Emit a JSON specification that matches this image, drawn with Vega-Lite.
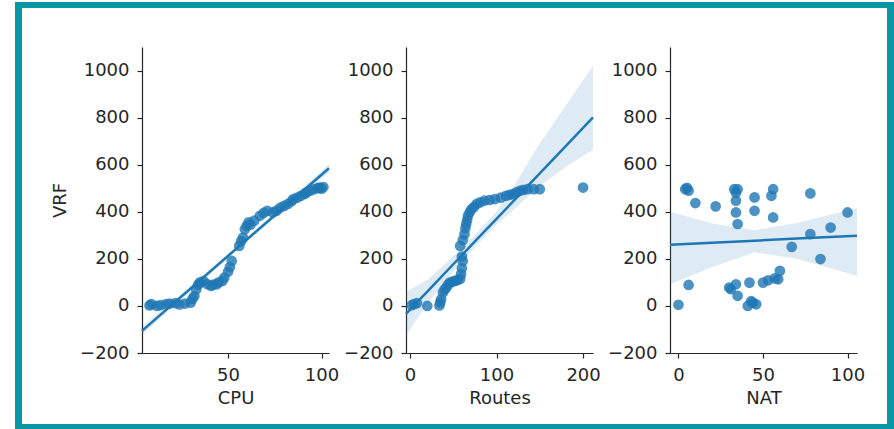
{
  "$schema": "https://vega.github.io/schema/vega-lite/v6.json",
  "background": "white",
  "padding": {"left": 15, "top": 2, "right": 0, "bottom": 0},
  "spacing": 0,
  "vconcat": [
    {"width": 879, "height": 6, "data": {"values": []}, "mark": "point", "encoding": {}, "view": {"fill": "#0897a3", "stroke": null}},
    {
      "spacing": 22,
      "hconcat": [
        {
          "spacing": 29,
          "hconcat": [
            {"width": 7, "height": 416, "data": {"values": []}, "mark": "point", "encoding": {}, "view": {"fill": "#0897a3", "stroke": null}},
            {
              "spacing": 0,
              "vconcat": [
                {"width": 1, "height": 39, "data": {"values": []}, "mark": "point", "encoding": {}},
                {
                  "spacing": 77,
                  "bounds": "flush",
                  "hconcat": [
                    {
                      "width": 187, "height": 306,
                      "layer": [
                        {"data": {"name": "cpu_fit"}, "mark": {"type": "area", "color": "#1f77b4", "opacity": 0.15},
                         "encoding": {
                           "x": {"field": "CPU", "type": "quantitative", "title": "CPU", "scale": {"domain": [4, 104], "nice": false, "zero": false}, "axis": {"values": [50, 100], "format": "d"}},
                           "y": {"field": "lo", "type": "quantitative", "title": "VRF", "scale": {"domain": [-200, 1100], "nice": false, "zero": false}, "axis": {"values": [-200, 0, 200, 400, 600, 800, 1000], "format": "d"}},
                           "y2": {"field": "hi"}}},
                        {"data": {"name": "cpu_fit"}, "mark": {"type": "line", "color": "#1f77b4", "strokeWidth": 2.5},
                         "encoding": {"x": {"field": "CPU", "type": "quantitative", "title": "CPU"}, "y": {"field": "fit", "type": "quantitative", "title": "VRF"}}},
                        {"data": {"name": "cpu"}, "mark": {"type": "circle", "color": "#1f77b4", "opacity": 0.8, "size": 115},
                         "encoding": {"x": {"field": "CPU", "type": "quantitative", "title": "CPU"}, "y": {"field": "VRF", "type": "quantitative", "title": "VRF"}}}
                      ]
                    },
                    {
                      "width": 187, "height": 306,
                      "layer": [
                        {"data": {"name": "routes_fit"}, "mark": {"type": "area", "color": "#1f77b4", "opacity": 0.15},
                         "encoding": {
                           "x": {"field": "Routes", "type": "quantitative", "title": "Routes", "scale": {"domain": [-4.6, 211.5], "nice": false, "zero": false}, "axis": {"values": [0, 100, 200], "format": "d"}},
                           "y": {"field": "lo", "type": "quantitative", "title": null, "scale": {"domain": [-200, 1100], "nice": false, "zero": false}, "axis": {"values": [-200, 0, 200, 400, 600, 800, 1000], "format": "d", "title": null}},
                           "y2": {"field": "hi"}}},
                        {"data": {"name": "routes_fit"}, "mark": {"type": "line", "color": "#1f77b4", "strokeWidth": 2.5},
                         "encoding": {"x": {"field": "Routes", "type": "quantitative", "title": "Routes"}, "y": {"field": "fit", "type": "quantitative", "title": null}}},
                        {"data": {"name": "routes"}, "mark": {"type": "circle", "color": "#1f77b4", "opacity": 0.8, "size": 115},
                         "encoding": {"x": {"field": "Routes", "type": "quantitative", "title": "Routes"}, "y": {"field": "VRF", "type": "quantitative", "title": null}}}
                      ]
                    },
                    {
                      "width": 187, "height": 306,
                      "layer": [
                        {"data": {"name": "nat_fit"}, "mark": {"type": "area", "color": "#1f77b4", "opacity": 0.15},
                         "encoding": {
                           "x": {"field": "NAT", "type": "quantitative", "title": "NAT", "scale": {"domain": [-5, 105.6], "nice": false, "zero": false}, "axis": {"values": [0, 50, 100], "format": "d"}},
                           "y": {"field": "lo", "type": "quantitative", "title": null, "scale": {"domain": [-200, 1100], "nice": false, "zero": false}, "axis": {"values": [-200, 0, 200, 400, 600, 800, 1000], "format": "d", "title": null}},
                           "y2": {"field": "hi"}}},
                        {"data": {"name": "nat_fit"}, "mark": {"type": "line", "color": "#1f77b4", "strokeWidth": 2.5},
                         "encoding": {"x": {"field": "NAT", "type": "quantitative", "title": "NAT"}, "y": {"field": "fit", "type": "quantitative", "title": null}}},
                        {"data": {"name": "nat"}, "mark": {"type": "circle", "color": "#1f77b4", "opacity": 0.8, "size": 115},
                         "encoding": {"x": {"field": "NAT", "type": "quantitative", "title": "NAT"}, "y": {"field": "VRF", "type": "quantitative", "title": null}}}
                      ]
                    }
                  ]
                }
              ]
            }
          ]
        },
        {"width": 7, "height": 416, "data": {"values": []}, "mark": "point", "encoding": {}, "view": {"fill": "#0897a3", "stroke": null}}
      ]
    },
    {"width": 879, "height": 5, "data": {"values": []}, "mark": "point", "encoding": {}, "view": {"fill": "#0897a3", "stroke": null}}
  ],
  "datasets": {
    "cpu": [
      {"CPU": 8, "VRF": 2}, {"CPU": 9, "VRF": 8}, {"CPU": 12, "VRF": 0}, {"CPU": 14, "VRF": 3}, {"CPU": 17, "VRF": 8},
      {"CPU": 19, "VRF": 10}, {"CPU": 22, "VRF": 12}, {"CPU": 24, "VRF": 6}, {"CPU": 27, "VRF": 10}, {"CPU": 30, "VRF": 14},
      {"CPU": 31, "VRF": 30}, {"CPU": 32, "VRF": 42}, {"CPU": 33, "VRF": 70}, {"CPU": 34, "VRF": 90}, {"CPU": 35, "VRF": 100},
      {"CPU": 37, "VRF": 105}, {"CPU": 39, "VRF": 92}, {"CPU": 41, "VRF": 85}, {"CPU": 42, "VRF": 90}, {"CPU": 44, "VRF": 92},
      {"CPU": 45, "VRF": 100}, {"CPU": 47, "VRF": 106}, {"CPU": 48, "VRF": 120}, {"CPU": 50, "VRF": 145}, {"CPU": 51, "VRF": 165},
      {"CPU": 52, "VRF": 191}, {"CPU": 56, "VRF": 255}, {"CPU": 57, "VRF": 275}, {"CPU": 58, "VRF": 290}, {"CPU": 59, "VRF": 326},
      {"CPU": 60, "VRF": 340}, {"CPU": 61, "VRF": 355}, {"CPU": 62, "VRF": 345}, {"CPU": 64, "VRF": 362}, {"CPU": 67, "VRF": 383},
      {"CPU": 69, "VRF": 395}, {"CPU": 71, "VRF": 404}, {"CPU": 74, "VRF": 397}, {"CPU": 76, "VRF": 405}, {"CPU": 78, "VRF": 418},
      {"CPU": 80, "VRF": 425}, {"CPU": 82, "VRF": 433}, {"CPU": 84, "VRF": 445}, {"CPU": 85, "VRF": 454}, {"CPU": 87, "VRF": 460},
      {"CPU": 89, "VRF": 468}, {"CPU": 91, "VRF": 476}, {"CPU": 92, "VRF": 482}, {"CPU": 94, "VRF": 490}, {"CPU": 96, "VRF": 496},
      {"CPU": 98, "VRF": 500}, {"CPU": 99, "VRF": 503}, {"CPU": 100, "VRF": 498}, {"CPU": 101, "VRF": 505}
    ],
    "cpu_fit": [
      {"CPU": 4, "fit": -106, "lo": -122, "hi": -90},
      {"CPU": 54, "fit": 240, "lo": 231, "hi": 249},
      {"CPU": 104, "fit": 585, "lo": 568, "hi": 602}
    ],
    "routes": [
      {"Routes": 2, "VRF": 3}, {"Routes": 5, "VRF": 8}, {"Routes": 8, "VRF": 12}, {"Routes": 20, "VRF": 0}, {"Routes": 34, "VRF": 2},
      {"Routes": 35, "VRF": 15}, {"Routes": 36, "VRF": 28}, {"Routes": 38, "VRF": 57}, {"Routes": 40, "VRF": 70}, {"Routes": 42, "VRF": 78},
      {"Routes": 44, "VRF": 90}, {"Routes": 46, "VRF": 99}, {"Routes": 49, "VRF": 103}, {"Routes": 52, "VRF": 106}, {"Routes": 55, "VRF": 110},
      {"Routes": 58, "VRF": 115}, {"Routes": 59, "VRF": 135}, {"Routes": 60, "VRF": 160}, {"Routes": 61, "VRF": 191}, {"Routes": 60, "VRF": 210},
      {"Routes": 58, "VRF": 255}, {"Routes": 61, "VRF": 280}, {"Routes": 63, "VRF": 305}, {"Routes": 64, "VRF": 330}, {"Routes": 65, "VRF": 348},
      {"Routes": 66, "VRF": 365}, {"Routes": 67, "VRF": 383}, {"Routes": 69, "VRF": 398}, {"Routes": 71, "VRF": 411}, {"Routes": 74, "VRF": 420},
      {"Routes": 77, "VRF": 433}, {"Routes": 81, "VRF": 440}, {"Routes": 86, "VRF": 447}, {"Routes": 92, "VRF": 450}, {"Routes": 98, "VRF": 454},
      {"Routes": 105, "VRF": 460}, {"Routes": 111, "VRF": 468}, {"Routes": 115, "VRF": 472}, {"Routes": 119, "VRF": 475}, {"Routes": 123, "VRF": 482},
      {"Routes": 127, "VRF": 489}, {"Routes": 131, "VRF": 493}, {"Routes": 136, "VRF": 496}, {"Routes": 143, "VRF": 496}, {"Routes": 150, "VRF": 496},
      {"Routes": 200, "VRF": 503}
    ],
    "routes_fit": [
      {"Routes": -4.6, "fit": -34, "lo": -125, "hi": 60},
      {"Routes": 20, "fit": 61, "lo": 10, "hi": 110},
      {"Routes": 50, "fit": 177, "lo": 145, "hi": 210},
      {"Routes": 80, "fit": 293, "lo": 268, "hi": 320},
      {"Routes": 100, "fit": 370, "lo": 345, "hi": 400},
      {"Routes": 120, "fit": 447, "lo": 410, "hi": 510},
      {"Routes": 150, "fit": 563, "lo": 510, "hi": 690},
      {"Routes": 180, "fit": 679, "lo": 590, "hi": 850},
      {"Routes": 211.5, "fit": 801, "lo": 665, "hi": 1020}
    ],
    "nat": [
      {"NAT": 0, "VRF": 5}, {"NAT": 4, "VRF": 496}, {"NAT": 5, "VRF": 502}, {"NAT": 6, "VRF": 490}, {"NAT": 10, "VRF": 437},
      {"NAT": 6, "VRF": 89}, {"NAT": 22, "VRF": 423}, {"NAT": 30, "VRF": 78}, {"NAT": 31, "VRF": 71}, {"NAT": 34, "VRF": 92},
      {"NAT": 35, "VRF": 43}, {"NAT": 33, "VRF": 496}, {"NAT": 34, "VRF": 481}, {"NAT": 35, "VRF": 496}, {"NAT": 34, "VRF": 447},
      {"NAT": 34, "VRF": 397}, {"NAT": 35, "VRF": 348}, {"NAT": 41, "VRF": 0}, {"NAT": 42, "VRF": 99}, {"NAT": 43, "VRF": 20},
      {"NAT": 44, "VRF": 14}, {"NAT": 46, "VRF": 7}, {"NAT": 45, "VRF": 461}, {"NAT": 45, "VRF": 404}, {"NAT": 50, "VRF": 99},
      {"NAT": 53, "VRF": 109}, {"NAT": 57, "VRF": 117}, {"NAT": 59, "VRF": 113}, {"NAT": 60, "VRF": 149}, {"NAT": 56, "VRF": 496},
      {"NAT": 55, "VRF": 468}, {"NAT": 56, "VRF": 376}, {"NAT": 67, "VRF": 251}, {"NAT": 78, "VRF": 478}, {"NAT": 78, "VRF": 305},
      {"NAT": 90, "VRF": 333}, {"NAT": 84, "VRF": 199}, {"NAT": 100, "VRF": 397}
    ],
    "nat_fit": [
      {"NAT": -5, "fit": 260, "lo": 92, "hi": 400},
      {"NAT": 20, "fit": 268, "lo": 165, "hi": 350},
      {"NAT": 45, "fit": 277, "lo": 228, "hi": 322},
      {"NAT": 70, "fit": 286, "lo": 200, "hi": 352},
      {"NAT": 105.6, "fit": 298, "lo": 128, "hi": 415}
    ]
  },
  "config": {
    "view": {"stroke": null},
    "font": "DejaVu Sans",
    "axis": {
      "grid": false,
      "labelFont": "DejaVu Sans", "titleFont": "DejaVu Sans",
      "labelFontSize": 18, "titleFontSize": 18, "titleFontWeight": "normal",
      "labelColor": "#262626", "titleColor": "#262626",
      "domainColor": "#262626", "tickColor": "#262626",
      "domainWidth": 1.2, "tickWidth": 1.2,
      "tickSize": 5, "labelPadding": 8, "labelFlush": false
    },
    "axisX": {"titlePadding": 5},
    "axisY": {"titlePadding": 10}
  }
}
